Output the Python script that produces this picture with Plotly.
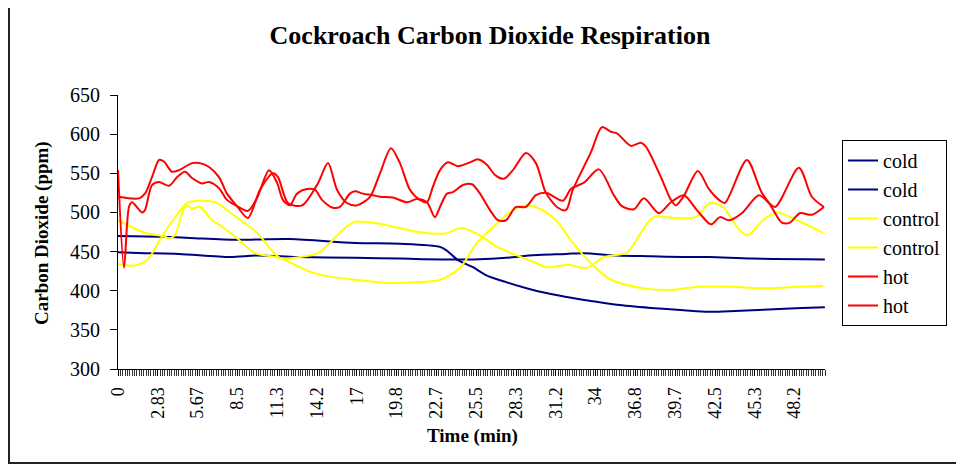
import plotly.graph_objects as go

# ---------------- data (time in minutes, CO2 in ppm) ----------------
cold1_t = [0, 3.13, 5.48, 8.47, 12.24, 16.87, 20.07, 22.92, 23.42, 24.20, 25.27, 26.19,
           27.62, 29.54, 31.39, 33.67, 35.52, 37.94, 40.28, 42.06, 43.91, 46.33, 48.68, 50.32]
cold1_v = [470, 469, 467, 465, 466, 461, 460, 456, 451, 439, 430, 420,
           411, 401, 394, 387, 382, 378, 375, 373, 374, 376, 378, 379]

cold2_t = [0, 1.92, 4.34, 7.97, 9.89, 12.74, 16.87, 20.07, 25.27, 28.33, 29.25, 31.89,
           33.17, 35.52, 37.94, 40.28, 42.06, 45.12, 50.32]
cold2_v = [449, 448, 447, 443, 445, 443, 442, 441, 440, 443, 445, 447,
           448, 445, 444, 443, 443, 441, 440]

control1_t = [0, 1.92, 3.13, 3.70, 4.06, 4.56, 4.84, 5.27, 5.84, 6.69, 7.40, 8.47,
              9.75, 11.53, 12.95, 13.88, 15.09, 16.87, 19.15, 21.49, 22.92, 24.34,
              25.55, 26.98, 28.11, 29.04, 29.97, 31.18, 32.38, 33.67, 35.09, 37.44,
              39.36, 41.28, 43.63, 45.98, 48.33, 50.18]
control1_v = [490, 474, 470, 467, 471, 499, 509, 505, 507, 490, 482, 467,
              448, 442, 430, 423, 418, 414, 410, 411, 414, 429,
              461, 486, 503, 509, 505, 490, 461, 435, 414, 403,
              401, 405, 405, 403, 405, 406]

control2_t = [0, 1.07, 2.06, 2.99, 3.91, 4.91, 5.84, 7.05, 7.97, 9.89, 11.53, 12.95,
              14.23, 15.09, 16.01, 16.87, 18.50, 21.35, 23.27, 24.42, 25.55, 26.98,
              29.54, 30.53, 32.17, 33.38, 34.59, 36.23, 37.15, 37.86, 38.29, 39.50,
              41.14, 42.14, 43.06, 44.27, 44.84, 45.91, 46.90, 48.33, 50.18]
control2_v = [434, 432, 439, 465, 490, 512, 515, 512, 500, 474, 442, 443,
              448, 461, 478, 488, 486, 475, 473, 480, 473, 456,
              437, 430, 433, 429, 443, 449, 472, 490, 495, 493,
              494, 512, 507, 477, 471, 490, 500, 490, 474]

hot1_t = [0, 0.43, 0.78, 1.00, 1.71, 1.92, 2.42, 2.92, 3.63, 4.20, 4.77, 5.27, 5.98,
          6.48, 7.19, 7.76, 8.47, 9.25, 9.89, 10.75, 11.32, 11.74, 12.24, 12.74, 13.45,
          14.02, 14.52, 15.30, 15.80, 16.51, 16.87, 17.44, 18.15, 18.65, 19.57, 20.57,
          21.28, 21.99, 22.56, 22.92, 23.42, 23.84, 24.56, 25.20, 25.77, 26.48, 27.05,
          27.62, 28.33, 29.04, 29.75, 30.46, 31.67, 32.24, 33.17, 34.23, 35.30, 35.87,
          36.73, 37.44, 38.51, 39.36, 40.28, 41.21, 42.06, 42.28, 42.85, 43.49, 44.41,
          45.62, 46.33, 47.26, 47.83, 48.54, 49.39, 50.25]
hot1_v = [554, 429, 507, 513, 500, 503, 535, 539, 534, 545, 552, 544, 537,
          539, 531, 516, 508, 502, 518, 554, 538, 516, 509, 524, 530,
          529, 516, 506, 507, 524, 527, 524, 522, 520, 519, 513,
          517, 513, 494, 507, 524, 526, 535, 536, 524, 503, 490,
          490, 507, 507, 522, 525, 515, 530, 538, 555, 522, 508,
          504, 518, 499, 513, 522, 503, 486, 485, 494, 490, 499,
          522, 512, 487, 487, 499, 497, 507]

hot2_t = [0, 1.49, 1.92, 2.42, 2.92, 3.27, 3.84, 4.34, 5.27, 5.84, 6.48, 7.19, 7.76,
          8.47, 9.25, 10.11, 11.03, 11.39, 12.10, 13.10, 14.23, 14.95, 15.59, 16.30,
          17.01, 17.94, 18.65, 19.43, 20.07, 20.78, 21.49, 21.99, 22.42, 22.92, 23.49,
          24.20, 25.05, 25.62, 26.26, 26.83, 27.47, 28.11, 29.04, 29.75, 30.46, 31.32,
          31.89, 32.38, 33.67, 34.45, 35.09, 35.52, 36.51, 37.22, 37.58, 38.65, 39.36,
          39.72, 40.28, 41.28, 42.06, 42.78, 43.20, 44.77, 45.84, 46.76, 48.47, 49.39, 50.25]
hot2_v = [520, 518, 524, 545, 567, 565, 552, 554, 563, 563, 558, 545, 524,
          508, 493, 529, 550, 545, 512, 509, 537, 563, 529, 512,
          509, 520, 550, 582, 563, 529, 516, 513, 533, 554, 564,
          559, 564, 568, 561, 548, 543, 554, 576, 563, 525, 506,
          503, 529, 577, 609, 603, 601, 585, 589, 584, 545, 516,
          509, 521, 553, 530, 516, 512, 567, 525, 507, 557, 520, 507]

tick_labels = ["0", "2.83", "5.67", "8.5", "11.3", "14.2", "17", "19.8", "22.7",
               "25.5", "28.3", "31.2", "34", "36.8", "39.7", "42.5", "45.3", "48.2"]
SAMPLE_STEP = 1 / 6          # one reading every 10 s
LABEL_EVERY = 17             # a label every 17 readings

series = [
    ("cold", cold1_t, cold1_v, "#000080"),
    ("cold", cold2_t, cold2_v, "#000080"),
    ("control", control1_t, control1_v, "#FFFF00"),
    ("control", control2_t, control2_v, "#FFFF00"),
    ("hot", hot1_t, hot1_v, "#FF0000"),
    ("hot", hot2_t, hot2_v, "#FF0000"),
]

FONT = "Liberation Serif, Times New Roman, serif"

fig = go.Figure()
for i, (name, t, v, col) in enumerate(series):
    fig.add_trace(go.Scatter(
        x=t, y=v, name=name, mode="lines", legendgroup=f"g{i}",
        line=dict(color=col, width=2, shape="spline", smoothing=0.8),
        hoverinfo="skip",
    ))

# page has an 8px body margin: work in screen pixels and shift by OFF
OFF = 8
W, H = 964, 467
PL, PR, PT, PB = 118, 825, 95, 369   # plot area in screen pixels
L, T = PL - OFF, PT - OFF
R, B = W - (PR - OFF), H - (PB - OFF)
pw, ph = PR - PL, PB - PT


def px_x(p):
    return (p - PL) / pw


def px_y(p):
    return (PB - p) / ph


fig.update_layout(
    width=W, height=H,
    margin=dict(l=L, r=R, t=T, b=B, autoexpand=False),
    paper_bgcolor="white", plot_bgcolor="white",
    font=dict(family=FONT, color="black"),
    title=dict(text="<b>Cockroach Carbon Dioxide Respiration</b>",
               font=dict(size=26, family=FONT, color="black"),
               xref="container", x=(490 - OFF) / W, xanchor="center",
               yref="container", y=1 - (35 - OFF) / H, yanchor="middle"),
    showlegend=True,
    legend=dict(x=px_x(842), y=px_y(140), xanchor="left", yanchor="top",
                bordercolor="black", borderwidth=1, bgcolor="white",
                font=dict(size=20, family=FONT, color="black"),
                tracegroupgap=0, itemwidth=30),
    xaxis=dict(
        range=[0, 50.33], showgrid=False, zeroline=False,
        showline=True, linecolor="black", linewidth=1,
        tickmode="array",
        tickvals=[i * LABEL_EVERY * SAMPLE_STEP for i in range(len(tick_labels))],
        ticktext=tick_labels, tickangle=-90,
        ticks="outside", ticklen=6, tickcolor="black",
        tickfont=dict(size=18, family=FONT, color="black"),
        ticklabelstandoff=4,
        minor=dict(tickmode="linear", tick0=0, dtick=SAMPLE_STEP, ticks="outside",
                   ticklen=6, tickcolor="#333333", tickwidth=1, showgrid=False),
    ),
    yaxis=dict(
        range=[300, 650], dtick=50, tick0=300, showgrid=False, zeroline=False,
        showline=True, linecolor="black", linewidth=1,
        ticks="outside", ticklen=7, tickcolor="black",
        tickfont=dict(size=20, family=FONT, color="black"),
        ticklabelstandoff=6,
    ),
    annotations=[
        dict(text="<b>Time (min)</b>", xref="paper", yref="paper",
             x=px_x(472), y=px_y(436), xanchor="center", yanchor="middle",
             showarrow=False, font=dict(size=19, family=FONT, color="black")),
        dict(text="<b>Carbon Dioxide (ppm)</b>", xref="paper", yref="paper",
             x=px_x(42), y=px_y(233), xanchor="center", yanchor="middle",
             textangle=-90, showarrow=False,
             font=dict(size=19, family=FONT, color="black")),
    ],
    shapes=[
        dict(type="rect", xref="paper", yref="paper",
             x0=px_x(9), x1=px_x(980), y0=px_y(463), y1=px_y(-5),
             line=dict(color="#222222", width=2), fillcolor="rgba(0,0,0,0)",
             layer="below"),
    ],
)

fig.write_html("out.html")
